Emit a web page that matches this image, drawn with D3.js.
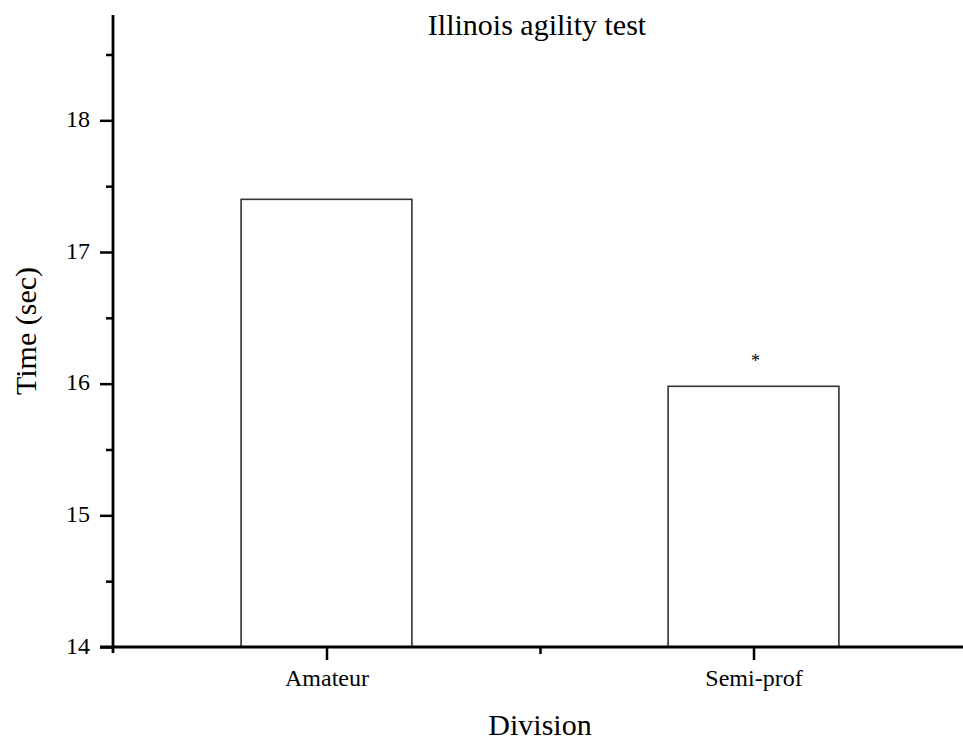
<!DOCTYPE html>
<html>
<head>
<meta charset="utf-8">
<script src="https://cdn.jsdelivr.net/npm/d3@7"></script>
<style>
  html, body { margin: 0; padding: 0; background: #fff; }
</style>
</head>
<body>
<svg id="chart" width="963" height="740"></svg>
<script>
// Illinois agility test: mean time per division
const categories = ["Amateur", "Semi-prof"];
const times = [17.40, 15.98];
const significance = ["", "*"];
const yTicks = [14, 15, 16, 17, 18];
const yMinorTicks = [14.5, 15.5, 16.5, 17.5, 18.5];

const serif = "'Liberation Serif', 'Times New Roman', serif";
const svg = d3.select("#chart");
const width = 963, height = 740;
const margin = { left: 113, top: 15, bottom: 92 };
const plotBottom = height - margin.bottom - 1;

// Categories sit at positions 1 and 2 on a 0.5–2.5 axis
const x = d3.scaleLinear().domain([0.5, 2.5]).range([margin.left, margin.left + 2 * 427]);
const y = d3.scaleLinear().domain([14, 18.8]).range([plotBottom, margin.top]);
const barWidth = 0.4;

// Bars
svg.append("g").selectAll("rect")
  .data(categories)
  .join("rect")
  .attr("x", (d, i) => x(i + 1 - barWidth / 2))
  .attr("width", x(1 + barWidth / 2) - x(1 - barWidth / 2))
  .attr("y", (d, i) => y(times[i]))
  .attr("height", (d, i) => y(14) - y(times[i]))
  .attr("fill", "#fff")
  .attr("stroke", "#333")
  .attr("stroke-width", 1.6);

// Significance marks
svg.append("g").selectAll("text")
  .data(significance)
  .join("text")
  .attr("x", (d, i) => x(i + 1) + 2)
  .attr("y", (d, i) => y(times[i]) - 19)
  .attr("text-anchor", "middle")
  .attr("font-size", 18)
  .text(d => d);

// Y axis
const yAxis = svg.append("g").attr("transform", `translate(${margin.left},0)`);
yAxis.call(d3.axisLeft(y).tickValues(yTicks).tickFormat(d3.format("d")).tickSize(13).tickPadding(10));
yAxis.append("g").call(d3.axisLeft(y).tickValues(yMinorTicks).tickSize(7).tickFormat(""));
yAxis.selectAll(".domain").remove();
yAxis.selectAll("line").attr("stroke", "#000").attr("stroke-width", 2.5);
yAxis.selectAll("text").attr("font-size", 24).attr("dy", "0.25em");
yAxis.append("line")
  .attr("x1", 0).attr("x2", 0)
  .attr("y1", margin.top).attr("y2", plotBottom + 6)
  .attr("stroke", "#000").attr("stroke-width", 2.8);

// X axis
const xAxis = svg.append("g").attr("transform", `translate(0,${plotBottom})`);
xAxis.call(d3.axisBottom(x).tickValues([1, 2]).tickFormat((d) => categories[d - 1]).tickSize(13).tickPadding(9));
xAxis.append("g").call(d3.axisBottom(x).tickValues([1.5]).tickSize(7).tickFormat(""));
xAxis.selectAll(".domain").remove();
xAxis.selectAll("line").attr("stroke", "#000").attr("stroke-width", 2.5);
xAxis.selectAll("text").attr("font-size", 24);
xAxis.append("line")
  .attr("x1", 100).attr("x2", width)
  .attr("y1", 0).attr("y2", 0)
  .attr("stroke", "#000").attr("stroke-width", 2.8);

// Titles
svg.append("text")
  .attr("x", 537).attr("y", 35)
  .attr("text-anchor", "middle")
  .attr("font-size", 30)
  .text("Illinois agility test");

svg.append("text")
  .attr("x", 540).attr("y", 735)
  .attr("text-anchor", "middle")
  .attr("font-size", 30)
  .text("Division");

svg.append("text")
  .attr("transform", "translate(36,331) rotate(-90)")
  .attr("text-anchor", "middle")
  .attr("font-size", 30)
  .text("Time (sec)");

svg.selectAll("text").style("font-family", serif).attr("fill", "#000");
</script>
</body>
</html>
